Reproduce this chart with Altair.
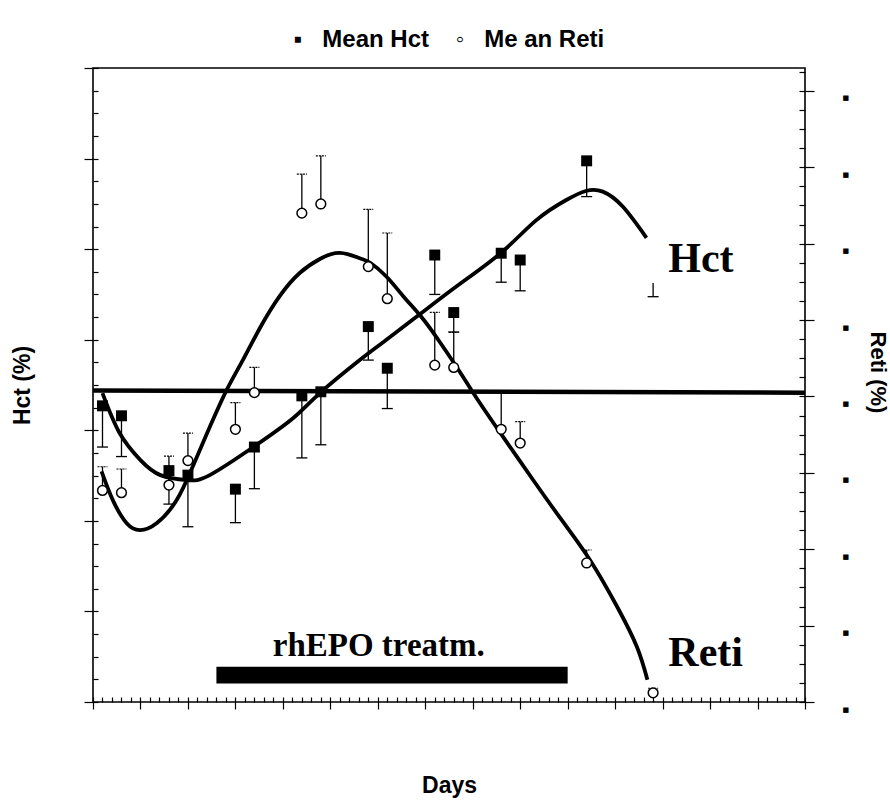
import altair as alt
import pandas as pd
import numpy as np

# ---------------- data ----------------
days = [1, 3, 8, 10, 15, 17, 22, 24, 29, 31, 36, 38, 43, 45, 52]
hct_mean = [34.54, 34.32, 33.11, 33.01, 32.70, 33.63, 34.76, 34.85, 36.29, 35.37,
            37.87, 36.60, 37.91, 37.76, 39.95]
hct_low = [33.63, 33.42, 32.37, 31.87, 31.96, 32.71, 33.39, 33.68, 35.55, 34.48,
           37.00, 36.17, 37.27, 37.08, 39.16]
# lone Hct error bar at day 59 (marker not visible)
hct_extra_day = [59]
hct_extra_top = [37.25]
hct_extra_low = [36.95]

reti_days = [1, 3, 8, 10, 15, 17, 22, 24, 29, 31, 36, 38, 43, 45, 52, 59]
reti_mean = [2.77, 2.74, 2.84, 3.16, 3.57, 4.05, 6.40, 6.52, 5.70, 5.28,
             4.41, 4.38, 3.57, 3.39, 1.82, 0.12]
reti_high = [3.08, 3.05, 3.22, 3.52, 3.92, 4.38, 6.91, 7.15, 6.45, 6.14,
             5.10, 4.84, 4.06, 3.67, 1.99, 0.18]

hct_fit_days = [1.0, 2.8, 5.0, 7.1, 9.9, 12.3, 16.9, 21.1, 23.9, 28.1, 30.6, 34.6,
                38.7, 43.1, 46.7, 49.9, 52.0, 53.7, 55.8, 58.3]
hct_fit = [34.82, 33.94, 33.34, 33.01, 32.90, 33.01, 33.63, 34.27, 34.82, 35.55,
           35.95, 36.59, 37.24, 37.94, 38.64, 39.09, 39.29, 39.27, 38.94, 38.25]

reti_fit_days = [0.9, 2.1, 3.55, 4.95, 6.7, 8.8, 10.5, 12.3, 14.1, 15.8, 17.6, 19.7,
                 21.8, 23.9, 26.0, 28.1, 29.2, 30.9, 32.7, 34.6, 36.6, 38.7, 40.4,
                 43.2, 46.4, 49.5, 52.4, 55.2, 57.3, 58.4]
reti_fit = [3.02, 2.64, 2.34, 2.25, 2.34, 2.64, 3.08, 3.60, 4.09, 4.48, 4.90, 5.32,
            5.62, 5.80, 5.88, 5.81, 5.75, 5.57, 5.31, 5.04, 4.70, 4.31, 3.98,
            3.47, 2.90, 2.36, 1.85, 1.25, 0.72, 0.29]

baseline_days = [0, 75]
baseline_hct = [34.88, 34.83]

treat_start, treat_end = [13], [50]
treat_low, treat_high = [28.41], [28.78]

label_text = ["Hct", "Reti"]
label_day = [60.6, 60.6]
label_hct = [37.50, 28.79]

treat_text = ["rhEPO treatm."]
treat_text_day = [30.1]
treat_text_hct = [29.02]

# ---------------- tables ----------------
df_hct = pd.DataFrame({"day": days, "hct": hct_mean, "low": hct_low})
df_hct_extra = pd.DataFrame({"day": hct_extra_day, "hct": hct_extra_top, "low": hct_extra_low})
df_reti = pd.DataFrame({"day": reti_days, "reti": reti_mean, "high": reti_high})
df_hfit = pd.DataFrame({"day": hct_fit_days, "hct": hct_fit})
df_rfit = pd.DataFrame({"day": reti_fit_days, "reti": reti_fit})
df_base = pd.DataFrame({"day": baseline_days, "hct": baseline_hct})
df_treat = pd.DataFrame({"day": treat_start, "day2": treat_end, "hct": treat_low, "hct2": treat_high})
df_lab = pd.DataFrame({"day": label_day, "hct": label_hct, "txt": label_text})
df_tt = pd.DataFrame({"day": treat_text_day, "hct": treat_text_hct, "txt": treat_text})

SANS = "Liberation Sans"
SERIF = "Liberation Serif"
CAP = "M -1 0 L 1 0"

x_vals = list(range(0, 76))
x_axis = alt.Axis(
    title="Days", values=x_vals, labels=False, grid=False, domain=False, offset=-5,
    tickSize={"condition": {"test": "datum.value % 5 === 0", "value": 12}, "value": 5},
    tickColor="black", tickWidth=1.2,
    titleFont=SANS, titleFontSize=23, titleFontWeight="bold", titleColor="black",
    titlePadding=65,
)
hct_vals = [round(28 + 0.5 * i, 2) for i in range(29)]
hct_axis = alt.Axis(
    title="Hct (%)", values=hct_vals, labels=False, grid=False, domain=False, offset=-5,
    tickSize={"condition": {"test": "datum.value % 2 === 0", "value": 14}, "value": 5},
    tickColor="black", tickWidth=1.2,
    titleFont=SANS, titleFontSize=23, titleFontWeight="bold", titleColor="black",
    titlePadding=49,
)
reti_vals = [round(0.25 * i, 2) for i in range(34)]
reti_axis = alt.Axis(
    title="Reti (%)", values=reti_vals, grid=False, orient="right", domain=False, offset=-6,
    labelExpr="datum.value % 1 === 0 ? '■' : ''",
    labelFont="DejaVu Sans", labelFontSize=7, labelColor="black",
    labelPadding=28, labelOffset=7, labelOverlap=False, labelBound=False, labelFlush=False,
    tickSize={"condition": {"test": "datum.value % 1 === 0", "value": 15}, "value": 6},
    tickColor="black", tickWidth=1.2,
    titleFont=SANS, titleFontSize=22, titleFontWeight="bold", titleColor="black",
    titlePadding=17, titleY=304,
)

xs = alt.Scale(domain=[0, 75], nice=False, zero=False)
hs = alt.Scale(domain=[28, 42], nice=False, zero=False)
rs = alt.Scale(domain=[0, 8.3], nice=False, zero=False)


def X(f="day"):
    return alt.X(f"{f}:Q", scale=xs, axis=x_axis)


def YH(f="hct"):
    return alt.Y(f"{f}:Q", scale=hs, axis=hct_axis)


def YR(f="reti"):
    return alt.Y(f"{f}:Q", scale=rs, axis=reti_axis)


# ---------- Hct group ----------
base_line = alt.Chart(df_base).mark_line(color="black", strokeWidth=4.5).encode(x=X(), y=YH())
treat_bar = alt.Chart(df_treat).mark_rect(color="black").encode(
    x=X(), x2="day2:Q", y=YH(), y2="hct2:Q")
hct_curve = alt.Chart(df_hfit).mark_line(color="black", strokeWidth=3.8, interpolate="natural").encode(
    x=X(), y=YH())
hct_err = alt.Chart(df_hct).mark_rule(color="black", strokeWidth=1.3).encode(x=X(), y=YH(), y2="low:Q")
hct_cap = alt.Chart(df_hct).mark_point(shape=CAP, filled=False, stroke="black", strokeWidth=1.3,
                                       size=121, opacity=1).encode(x=X(), y=YH("low"))
hx_err = alt.Chart(df_hct_extra).mark_rule(color="black", strokeWidth=1.3).encode(x=X(), y=YH(), y2="low:Q")
hx_cap = alt.Chart(df_hct_extra).mark_point(shape=CAP, filled=False, stroke="black", strokeWidth=1.3,
                                            size=121, opacity=1).encode(x=X(), y=YH("low"))
hct_pts = alt.Chart(df_hct).mark_point(shape="square", filled=True, color="black", size=120, opacity=1).encode(
    x=X(), y=YH())
labels = alt.Chart(df_lab).mark_text(font=SERIF, fontSize=42, fontWeight="bold", align="left",
                                     baseline="alphabetic", color="black").encode(
    x=X(), y=YH(), text="txt:N")
tlabel = alt.Chart(df_tt).mark_text(font=SERIF, fontSize=33, fontWeight="bold", align="center",
                                    baseline="alphabetic", color="black").encode(
    x=X(), y=YH(), text="txt:N")

hct_group = alt.layer(base_line, treat_bar, hct_curve, hct_err, hct_cap, hx_err, hx_cap, hct_pts,
                      labels, tlabel)

# ---------- Reti group ----------
reti_curve = alt.Chart(df_rfit).mark_line(color="black", strokeWidth=3.8, interpolate="natural").encode(
    x=X(), y=YR())
reti_err = alt.Chart(df_reti).mark_rule(color="black", strokeWidth=1.3).encode(x=X(), y=YR(), y2="high:Q")
reti_cap = alt.Chart(df_reti).mark_point(shape=CAP, filled=False, stroke="black", strokeWidth=1.2,
                                         strokeDash=[2, 1], size=100, opacity=1).encode(x=X(), y=YR("high"))
reti_pts = alt.Chart(df_reti).mark_point(shape="circle", filled=True, fill="white", stroke="black",
                                         strokeWidth=1.5, size=95, opacity=1).encode(x=X(), y=YR())
reti_group = alt.layer(reti_curve, reti_err, reti_cap, reti_pts)

chart = alt.layer(hct_group, reti_group).resolve_scale(y="independent").properties(
    width=712, height=634,
    background="white",
    autosize=alt.AutoSizeParams(type="none"),
    padding={"left": 93, "top": 68, "right": 85, "bottom": 98},
    title=alt.TitleParams(
        "▪\u00a0\u00a0\u00a0Mean Hct\u00a0\u00a0\u00a0\u00a0◦\u00a0\u00a0\u00a0Me an Reti",
        font=SANS, fontSize=24, fontWeight="bold", color="black",
        anchor="middle", frame="group", baseline="alphabetic", offset=-4,
    ),
).configure_view(stroke="black", strokeWidth=1.6)

chart.save("out.html", embed_options={"renderer": "svg", "actions": False})
